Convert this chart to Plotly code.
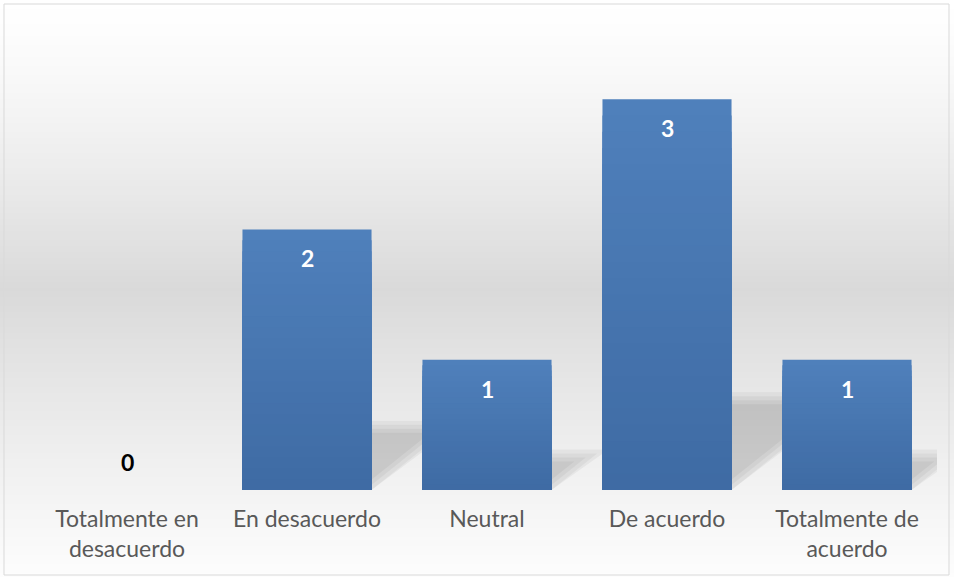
import math
import plotly.graph_objects as go

categories = ["Totalmente en<br>desacuerdo", "En desacuerdo", "Neutral", "De acuerdo", "Totalmente de<br>acuerdo"]
values = [0, 2, 1, 3, 1]

W, H = 954, 577
ML, MR, MT, MB = 37, 17, 34, 87
plot_h = H - MT - MB
pw = W - ML - MR
BARGAP = 0.283
half = (1 - BARGAP) / 2
YMAX = 3.5
px_x = pw / len(values)        # pixels per x unit
px_y = plot_h / YMAX           # pixels per y unit

fig = go.Figure()

# soft perspective shadows (derived from the values), on the base numeric axis
for i, v in enumerate(values):
    if v <= 0:
        continue
    h = (0.22 * v + 0.06) * px_y      # shadow height in px
    s = 0.8                            # slope of the diagonal (dy/dx)
    for d in [-4, 0, 4, 8]:
        dv = d * math.sqrt(1 + s * s)
        top = h - d
        if top <= dv:
            continue
        xc = (top - dv) / s
        xr = i + half
        fig.add_trace(go.Scatter(
            x=[xr, xr, xr + xc / px_x, xr],
            y=[max(dv, 0) / px_y, top / px_y, top / px_y, max(dv, 0) / px_y],
            fill="toself", mode="lines", line=dict(width=0),
            fillcolor="rgba(0,0,0,0.045)", hoverinfo="skip",
            xaxis="x", yaxis="y",
        ))

# vertical gradient inside bars: overlaid bars of decreasing height
N = 24
top_rgb = (79, 128, 187)
bot_rgb = (62, 106, 163)
for k in range(N):
    f = 1 - k / N
    c = tuple(int(round(b + (t - b) * f)) for t, b in zip(top_rgb, bot_rgb))
    fig.add_trace(go.Bar(
        x=categories, y=[v * f for v in values],
        marker=dict(color=f"rgb{c}", line=dict(width=0)),
        hoverinfo="skip" if k else "x+y",
        customdata=values,
        hovertemplate="%{x}: %{customdata}<extra></extra>" if k == 0 else None,
        xaxis="x2", yaxis="y",
    ))

# background gradient bands (paper coordinates)
shapes = []
step = 3
for py in range(0, H, step):
    mid = py + step / 2
    if mid <= 290:
        g = 255 - (255 - 217) * (mid / 290) ** 1.3
    else:
        g = 217 + (253 - 217) * ((mid - 290) / (H - 290)) ** 0.9
    c = int(round(g))
    y0 = (H - MB - (py + step)) / plot_h
    y1 = (H - MB - py) / plot_h
    shapes.append(dict(type="rect", xref="paper", yref="paper",
                       x0=-ML / pw, x1=1 + MR / pw,
                       y0=y0, y1=y1, fillcolor=f"rgb({c},{c},{c})",
                       line=dict(width=0), layer="below"))
# border
shapes.append(dict(type="rect", xref="paper", yref="paper",
                   x0=(4 - ML) / pw, x1=(949 - ML) / pw,
                   y0=(H - MB - 575) / plot_h, y1=(H - MB - 4) / plot_h,
                   line=dict(color="#d9d9d9", width=1), fillcolor="rgba(0,0,0,0)",
                   layer="above"))

annotations = []
for cat, v in zip(categories, values):
    annotations.append(dict(x=cat, y=v, xref="x2", yref="y", text=f"<b>{v}</b>",
                            showarrow=False, yshift=-29 if v > 0 else 28,
                            font=dict(family="Lato", size=23,
                                      color="white" if v > 0 else "black")))

fig.update_layout(
    width=W, height=H,
    margin=dict(l=ML, r=MR, t=MT, b=MB),
    paper_bgcolor="white",
    plot_bgcolor="rgba(0,0,0,0)",
    barmode="overlay",
    bargap=BARGAP,
    showlegend=False,
    shapes=shapes,
    annotations=annotations,
    font=dict(family="Lato", size=23, color="#595959"),
    xaxis=dict(range=[-0.5, len(values) - 0.5], visible=False, showgrid=False, zeroline=False),
    xaxis2=dict(overlaying="x", side="bottom", showgrid=False, showline=False, zeroline=False,
                ticks="", ticklabelstandoff=13,
                range=[-0.5, len(values) - 0.5],
                tickfont=dict(family="Lato", size=23, color="#595959")),
    yaxis=dict(range=[0, YMAX], visible=False, showgrid=False, zeroline=False),
)

fig.write_html("out.html",
               config={"displayModeBar": False},
               post_script="document.body.style.margin='0';document.body.style.padding='0';")
